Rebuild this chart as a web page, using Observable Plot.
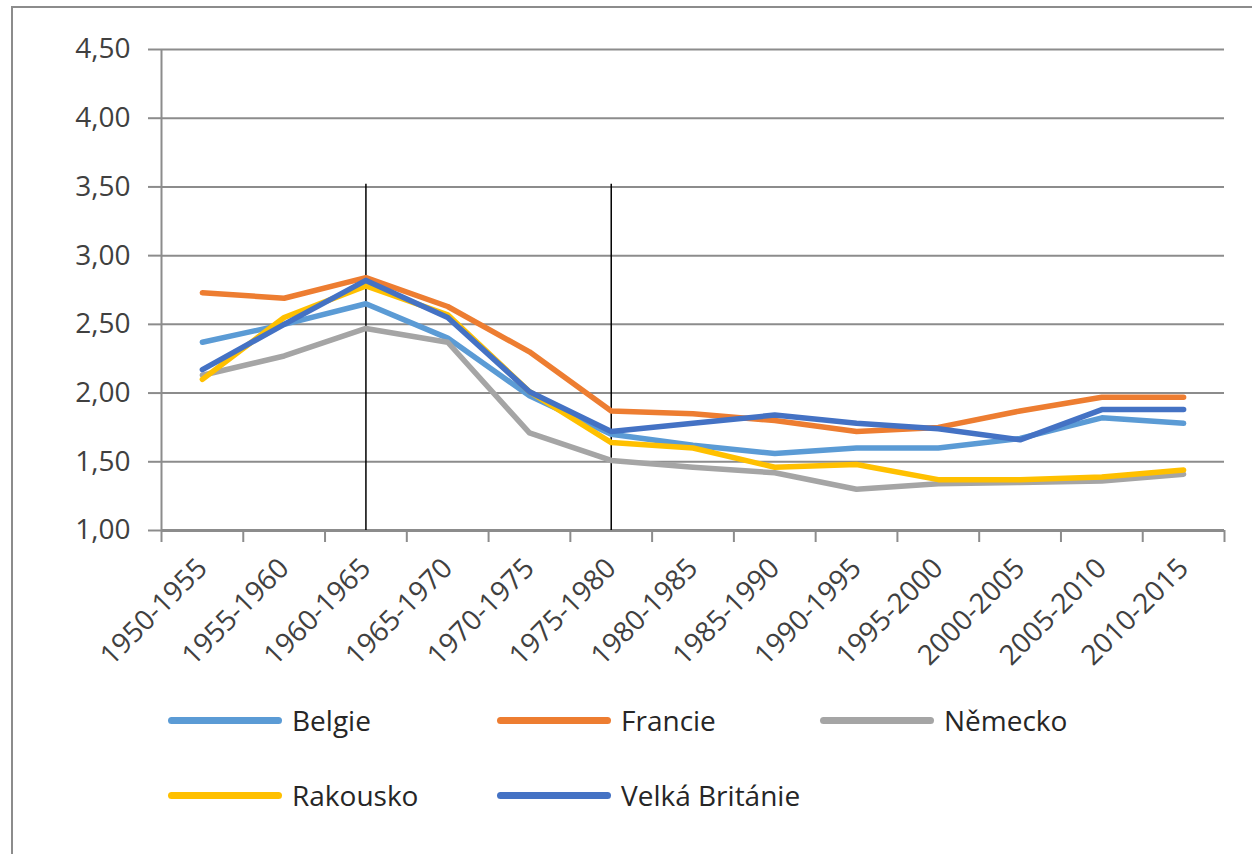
<!DOCTYPE html>
<html>
<head>
<meta charset="utf-8">
<script src="https://cdn.jsdelivr.net/npm/d3@7"></script>
<script src="https://cdn.jsdelivr.net/npm/@observablehq/plot@0.6"></script>
<style>
  html, body { margin: 0; padding: 0; background: #fff; }
  #wrap { position: relative; width: 1252px; height: 854px; overflow: hidden; font-family: "Open Sans", sans-serif; }
  #frame { position: absolute; left: 11px; top: 6px; width: 1260px; height: 900px; border-left: 2px solid #8c8c8c; border-top: 2px solid #8c8c8c; box-sizing: border-box; }
  #chart { position: absolute; left: 0; top: 0; }
  #legend { position: absolute; left: 168px; top: 690px; }
  .item { position: absolute; display: flex; align-items: center; white-space: nowrap; font-size: 28px; color: #262626; }
  .sw { width: 114px; height: 7px; border-radius: 4px; margin-right: 10px; }
</style>
</head>
<body>
<div id="wrap">
  <div id="frame"></div>
  <div id="chart"></div>
  <div id="legend"></div>
</div>
<script>
const categories = ["1950-1955","1955-1960","1960-1965","1965-1970","1970-1975","1975-1980","1980-1985","1985-1990","1990-1995","1995-2000","2000-2005","2005-2010","2010-2015"];
const seriesNames = ["Belgie","Francie","Německo","Rakousko","Velká Británie"];
const seriesColors = ["#5B9BD5","#ED7D31","#A5A5A5","#FFC000","#4472C4"];
const belgie   = [2.37,2.50,2.65,2.40,1.98,1.70,1.62,1.56,1.60,1.60,1.67,1.82,1.78];
const francie  = [2.73,2.69,2.84,2.63,2.30,1.87,1.85,1.80,1.72,1.75,1.87,1.97,1.97];
const nemecko  = [2.13,2.27,2.47,2.37,1.71,1.51,1.46,1.42,1.30,1.34,1.35,1.36,1.41];
const rakousko = [2.10,2.55,2.78,2.57,2.01,1.64,1.60,1.46,1.48,1.37,1.37,1.39,1.44];
const britanie = [2.17,2.50,2.82,2.55,2.01,1.72,1.78,1.84,1.78,1.74,1.66,1.88,1.88];
const seriesValues = [belgie, francie, nemecko, rakousko, britanie];
const yTicks = [1.0,1.5,2.0,2.5,3.0,3.5,4.0,4.5];
const markerCategories = ["1960-1965","1975-1980"];
const markerTop = 3.52;

const data = [];
seriesNames.forEach((s, si) => seriesValues[si].forEach((v, i) => data.push({series: s, cat: categories[i], i: i + 0.5, v})));
const markers = markerCategories.map(c => ({i: categories.indexOf(c) + 0.5, y1: 1, y2: markerTop}));
const grid = "#8c8c8c";
const fmt = d => d.toFixed(2).replace(".", ",");

const plot = Plot.plot({
  width: 1252,
  height: 690,
  marginLeft: 161,
  marginRight: 28,
  marginTop: 49,
  marginBottom: 160,
  style: {fontFamily: "Open Sans, sans-serif", fontSize: "28px", color: "#404040", background: "transparent"},
  x: {type: "linear", domain: [0, categories.length]},
  y: {domain: [1, 4.5]},
  color: {domain: seriesNames, range: seriesColors},
  marks: [
    Plot.gridY(yTicks, {stroke: grid, strokeOpacity: 1, strokeWidth: 2}),
    Plot.axisY({ticks: yTicks, tickFormat: fmt, tickSize: 13, tickPadding: 18, stroke: grid, strokeWidth: 2, strokeOpacity: 1, label: null, fill: "#404040"}),
    Plot.ruleX([0], {stroke: grid, strokeWidth: 2}),
    Plot.axisX({ticks: d3.range(0, categories.length + 1), tickFormat: () => "", tickSize: 12, stroke: grid, strokeWidth: 2, strokeOpacity: 1, label: null}),
    Plot.axisX({ticks: categories.map((c, i) => i + 0.5), tickFormat: t => categories[Math.floor(t)], tickSize: 0, tickPadding: 33, tickRotate: -45, label: null, fill: "#404040"}),
    Plot.ruleY([1], {stroke: grid, strokeWidth: 3}),
    Plot.ruleX(markers, {x: "i", y1: "y1", y2: "y2", stroke: "#000", strokeWidth: 1.5}),
    Plot.line(data, {x: "i", y: "v", z: "series", stroke: "series", strokeWidth: 5.5, strokeLinejoin: "round", strokeLinecap: "round"})
  ]
});
document.getElementById("chart").appendChild(plot);

const legend = document.getElementById("legend");
const positions = [[0,30],[329,30],[652,30],[0,105],[329,105]];
seriesNames.forEach((s, i) => {
  const it = document.createElement("div");
  it.className = "item";
  it.style.left = positions[i][0] + "px";
  it.style.top = (positions[i][1] - 20) + "px";
  it.style.height = "40px";
  const sw = document.createElement("div");
  sw.className = "sw";
  sw.style.background = seriesColors[i];
  it.appendChild(sw);
  const t = document.createElement("span");
  t.textContent = s;
  it.appendChild(t);
  legend.appendChild(it);
});
</script>
</body>
</html>
